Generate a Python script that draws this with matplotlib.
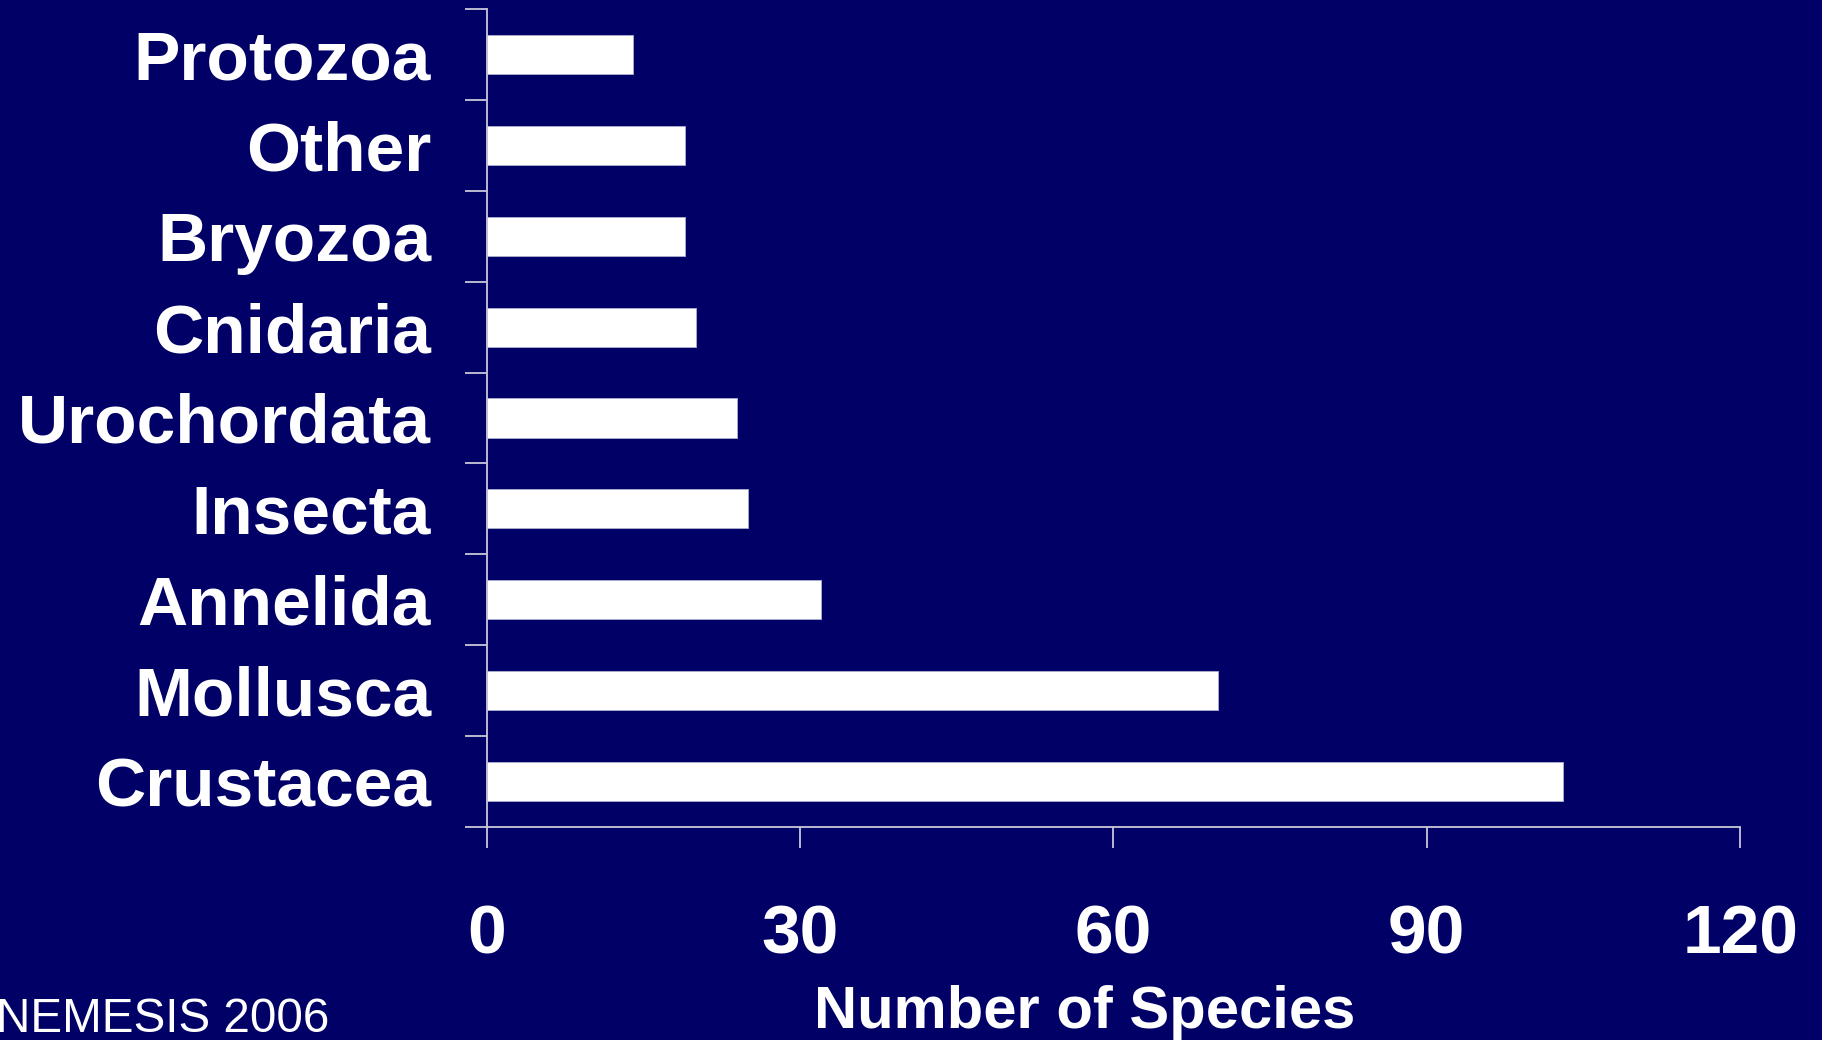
import matplotlib
matplotlib.use("Agg")
import matplotlib.pyplot as plt
import numpy as np

categories = ["Crustacea", "Mollusca", "Annelida", "Insecta", "Urochordata",
              "Cnidaria", "Bryozoa", "Other", "Protozoa"]
species = [103, 70, 32, 25, 24, 20, 19, 19, 14]
xticks = [0, 30, 60, 90, 120]

BG = "#000066"
AX = "#c8c8d8"

plt.rcParams['font.family'] = ['Liberation Sans', 'DejaVu Sans']

fig = plt.figure(figsize=(18.22, 10.40), dpi=100, facecolor=BG)
ax = fig.add_axes([0.2671, 0.2051, 0.688, 0.786], facecolor=BG)

y = np.arange(len(categories))
ax.barh(y, species, height=0.43, color="white", edgecolor="#b0b0d0", linewidth=0.6)

ax.set_xlim(0, 120)
ax.set_ylim(-0.5, len(categories) - 0.5)

for s in ["top", "right"]:
    ax.spines[s].set_visible(False)
for s in ["left", "bottom"]:
    ax.spines[s].set_color(AX)
    ax.spines[s].set_linewidth(1.3)

ax.set_xticks(xticks)
ax.set_xticklabels([str(v) for v in xticks], fontsize=50, fontweight="bold", color="white")
ax.tick_params(axis="x", which="major", direction="out", length=15, width=1.3,
               color=AX, pad=40)

ax.set_yticks(y)
ax.set_yticklabels(categories, fontsize=50, fontweight="bold", color="white")
ax.tick_params(axis="y", which="major", length=0, pad=40)
ax.set_yticks(np.arange(-0.5, len(categories), 1.0), minor=True)
ax.tick_params(axis="y", which="minor", direction="out", length=16, width=1.3, color=AX)

fig.text(1085 / 1822, 1 - 1012 / 1040, "Number of Species", fontsize=43,
         fontweight="bold", color="white", ha="center", va="center")
fig.text(-0.002, 1 - 1032 / 1040, "NEMESIS 2006", fontsize=34.3, color="white",
         ha="left", va="baseline")

fig.savefig("out.png", dpi=100, facecolor=BG)
